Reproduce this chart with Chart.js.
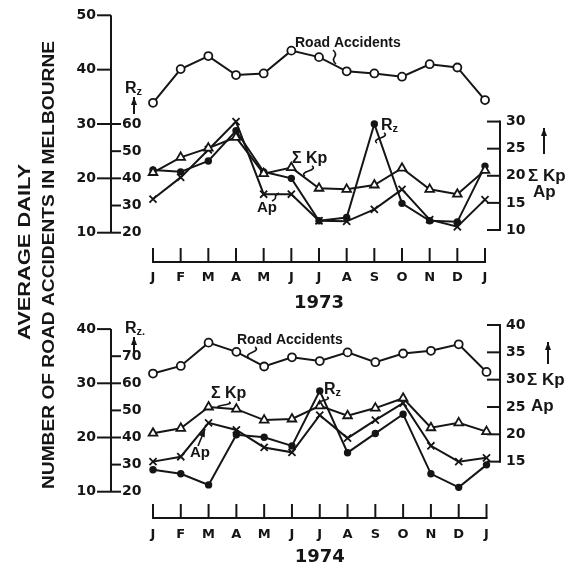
<!DOCTYPE html>
<html>
<head>
<meta charset="utf-8">
<script src="https://cdn.jsdelivr.net/npm/chart.js@4.4.0/dist/chart.umd.min.js"></script>
<style>
  html, body { margin: 0; padding: 0; background: #fff; }
  #wrap { position: relative; width: 571px; height: 564px; }
  #wrap canvas { position: absolute; left: 0; top: 0; }
</style>
</head>
<body>
<div id="wrap">
  <canvas id="c73" width="571" height="564"></canvas>
  <canvas id="c74" width="571" height="564"></canvas>
</div>
<script>
const months = ['J', 'F', 'M', 'A', 'M', 'J', 'J', 'A', 'S', 'O', 'N', 'D', 'J'];

// 1973
const road73 = [33.9, 40.1, 42.5, 39.0, 39.3, 43.5, 42.3, 39.7, 39.3, 38.7, 41.0, 40.4, 34.4];
const kp73   = [20.6, 23.4, 25.1, 27.1, 20.4, 21.5, 17.7, 17.5, 18.3, 21.4, 17.5, 16.6, 21.0];
const ap73   = [15.7, 19.7, 24.8, 30.0, 16.6, 16.6, 11.7, 11.6, 13.8, 17.5, 11.9, 10.6, 15.6];
const rz73   = [43.1, 42.4, 46.4, 57.5, 42.4, 40.0, 24.4, 25.6, 60.0, 30.8, 24.4, 24.0, 44.5];

// 1974
const road74 = [31.8, 33.2, 37.5, 35.8, 33.1, 34.8, 34.1, 35.7, 33.9, 35.5, 36.0, 37.2, 32.1];
const kp74   = [20.2, 21.1, 25.0, 24.6, 22.6, 22.8, 25.2, 23.4, 24.8, 26.6, 21.2, 22.1, 20.5];
const ap74   = [15.0, 15.9, 22.1, 20.8, 17.6, 16.7, 23.5, 19.3, 22.6, 25.7, 17.9, 15.0, 15.7];
const rz74   = [28.1, 26.6, 22.5, 41.0, 40.1, 36.9, 57.2, 34.4, 41.5, 48.6, 26.6, 21.6, 29.9];

// axis tick labels
const leftTicks73 = [10, 20, 30, 40, 50];
const rzTicks73   = [20, 30, 40, 50, 60];
const kTicks73    = [10, 15, 20, 25, 30];
const leftTicks74 = [10, 20, 30, 40];
const rzTicks74   = [20, 30, 40, 50, 60, 70];
const kTicks74    = [15, 20, 25, 30, 35, 40];

const ink = '#151515';
const NUM = 'bold 14px "DejaVu Sans"';
const MON = 'bold 13px "DejaVu Sans"';
const WORD = 'bold 14px "Liberation Sans"';
const BIG = 'bold 17px "Liberation Sans"';

function line(ctx, x1, y1, x2, y2) {
  ctx.beginPath(); ctx.moveTo(x1, y1); ctx.lineTo(x2, y2); ctx.stroke();
}
function txt(ctx, s, x, y, align, font) {
  ctx.font = font; ctx.textAlign = align; ctx.textBaseline = 'middle';
  ctx.fillText(s, x, y);
}
function squiggle(ctx, x1, y1, x2, y2) {
  const mx = (x1 + x2) / 2, my = (y1 + y2) / 2;
  ctx.beginPath();
  ctx.moveTo(x1, y1);
  ctx.quadraticCurveTo(x1 + 4, (y1 + my) / 2, mx, my);
  ctx.quadraticCurveTo(x2 - 4, (my + y2) / 2, x2, y2);
  ctx.stroke();
}
function arrow(ctx, x1, y1, x2, y2) {
  line(ctx, x1, y1, x2, y2);
  const a = Math.atan2(y2 - y1, x2 - x1);
  ctx.beginPath();
  ctx.moveTo(x2, y2);
  ctx.lineTo(x2 - 8 * Math.cos(a) + 3 * Math.sin(a), y2 - 8 * Math.sin(a) - 3 * Math.cos(a));
  ctx.lineTo(x2 - 8 * Math.cos(a) - 3 * Math.sin(a), y2 - 8 * Math.sin(a) + 3 * Math.cos(a));
  ctx.closePath(); ctx.fill();
}
function rz(ctx, x, y, tail) {
  ctx.font = 'bold 16px "Liberation Sans"'; ctx.textAlign = 'left'; ctx.textBaseline = 'alphabetic';
  ctx.fillText('R', x, y);
  const w = ctx.measureText('R').width;
  ctx.font = 'bold 11px "Liberation Sans"';
  ctx.fillText('z' + (tail || ''), x + w, y + 2);
}
function vText(ctx, s, cx, cy, len, font) {
  ctx.save();
  ctx.translate(cx, cy); ctx.rotate(-Math.PI / 2);
  ctx.font = font;
  const w = ctx.measureText(s).width;
  ctx.scale(len / w, 1);
  ctx.textAlign = 'center'; ctx.textBaseline = 'middle';
  ctx.fillText(s, 0, 0);
  ctx.restore();
}

function drawAxes(chart, p) {
  const ctx = chart.ctx, s = chart.scales;
  const xL = 111, xR = 500;
  ctx.save();
  ctx.strokeStyle = ink; ctx.fillStyle = ink; ctx.lineWidth = 2;

  // left: road accidents + Rz
  const lt = p.leftTicks;
  line(ctx, xL, s.y.getPixelForValue(lt[lt.length - 1]), xL, s.y.getPixelForValue(lt[0]));
  lt.forEach(v => {
    const y = s.y.getPixelForValue(v);
    line(ctx, xL - 14, y, xL, y);
    txt(ctx, String(v), xL - 15, y, 'right', NUM);
  });
  p.rzTicks.forEach(v => {
    const y = s.yRz.getPixelForValue(v);
    line(ctx, xL, y, xL + 10, y);
    txt(ctx, String(v), xL + 11, y, 'left', NUM);
  });

  // right: ΣKp / Ap
  const kt = p.kTicks;
  const yk0 = s.yK.getPixelForValue(kt[0]), yk1 = s.yK.getPixelForValue(kt[kt.length - 1]);
  line(ctx, xR, yk1 - 1, xR, yk0 + 1);
  kt.forEach(v => {
    const y = s.yK.getPixelForValue(v);
    line(ctx, xR - 13, y, xR, y);
    txt(ctx, String(v), xR + 6, y, 'left', NUM);
  });

  // months
  const x0 = s.x.getPixelForValue(0), x1 = s.x.getPixelForValue(months.length - 1);
  line(ctx, x0 - 1, p.baseY, x1 + 1, p.baseY);
  months.forEach((m, i) => {
    const x = s.x.getPixelForValue(i);
    line(ctx, x, p.baseY - 14, x, p.baseY);
    txt(ctx, m, x, p.labelY, 'center', MON);
  });
  txt(ctx, p.year, (x0 + x1) / 2, p.yearY, 'center', 'bold 18px "DejaVu Sans"');
  ctx.restore();
}

function drawNotes(chart, p) {
  const ctx = chart.ctx;
  ctx.save();
  ctx.strokeStyle = ink; ctx.fillStyle = ink; ctx.lineWidth = 1.6;
  const n = p.notes;
  txt(ctx, 'Road Accidents', n.road[0], n.road[1], 'left', WORD);
  squiggle(ctx, ...n.roadLead);
  txt(ctx, 'Σ Kp', n.kp[0], n.kp[1], 'left', 'bold 16px "Liberation Sans"');
  squiggle(ctx, ...n.kpLead);
  txt(ctx, 'Ap', n.ap[0], n.ap[1], 'left', 'bold 15px "Liberation Sans"');
  if (n.apArrow) arrow(ctx, ...n.apLead); else squiggle(ctx, ...n.apLead);
  rz(ctx, n.rzPeak[0], n.rzPeak[1]);
  squiggle(ctx, ...n.rzLead);
  // axis titles
  rz(ctx, n.rzAxis[0], n.rzAxis[1], n.rzTail);
  ctx.lineWidth = 2;
  arrow(ctx, n.rzArrow[0], n.rzArrow[1], n.rzArrow[0], n.rzArrow[2]);
  arrow(ctx, n.kArrow[0], n.kArrow[1], n.kArrow[0], n.kArrow[2]);
  txt(ctx, 'Σ Kp', n.kTitle[0], n.kTitle[1], 'left', BIG);
  txt(ctx, 'Ap', n.apTitle[0], n.apTitle[1], 'left', BIG);
  if (p.title) {
    vText(ctx, 'AVERAGE DAILY', 26, 252, 176, 'bold 16px "Liberation Sans"');
    vText(ctx, 'NUMBER OF ROAD ACCIDENTS IN MELBOURNE', 50, 265, 448, 'bold 16px "Liberation Sans"');
  }
  ctx.restore();
}

function panelPlugin(p) {
  return {
    id: 'panel' + p.year,
    beforeDatasetsDraw(chart) { drawAxes(chart, p); },
    afterDatasetsDraw(chart) { drawNotes(chart, p); }
  };
}

function ds(label, data, axis, style, fill, r) {
  return {
    label, data, yAxisID: axis,
    borderColor: ink, borderWidth: 2, tension: 0, clip: false,
    pointStyle: style, pointRadius: r, pointBorderWidth: 1.8,
    pointBackgroundColor: fill, pointBorderColor: ink
  };
}

function makeChart(id, p, sets, padding, yMin, yMax, rzMax, kMin, kMax) {
  return new Chart(document.getElementById(id), {
    type: 'line',
    data: { labels: months, datasets: sets },
    options: {
      responsive: false, animation: false, devicePixelRatio: 1, events: [],
      layout: { padding },
      plugins: { legend: { display: false }, tooltip: { enabled: false } },
      scales: {
        x: { display: false, offset: false },
        y: { display: false, min: yMin, max: yMax },
        yRz: { display: false, min: 20, max: rzMax },
        yK: { display: false, position: 'right', min: kMin, max: kMax }
      }
    },
    plugins: [panelPlugin(p)]
  });
}

const p73 = {
  year: '1973', leftTicks: leftTicks73, rzTicks: rzTicks73, kTicks: kTicks73,
  baseY: 262, labelY: 278, yearY: 303, title: true,
  notes: {
    road: [295, 43], roadLead: [333, 50, 336, 64],
    kp: [292, 159], kpLead: [312, 166, 305, 176],
    ap: [257, 208], apLead: [272, 201, 279, 193], apArrow: false,
    rzPeak: [381, 130], rzLead: [384, 133, 377, 143],
    rzAxis: [125, 93], rzArrow: [134, 114, 97],
    kArrow: [544, 154, 128], kTitle: [528, 176], apTitle: [533, 192]
  }
};
const p74 = {
  year: '1974', leftTicks: leftTicks74, rzTicks: rzTicks74, kTicks: kTicks74,
  baseY: 518, labelY: 535, yearY: 557, title: false,
  notes: {
    road: [237, 340], roadLead: [255, 347, 249, 358],
    kp: [211, 394], kpLead: [229, 402, 219, 408],
    ap: [190, 453], apLead: [198, 446, 205, 429], apArrow: true,
    rzPeak: [324, 394], rzLead: [327, 397, 320, 404],
    rzAxis: [125, 333], rzTail: '.', rzArrow: [134, 352, 337],
    kArrow: [548, 364, 342], kTitle: [527, 380], apTitle: [531, 406]
  }
};

makeChart('c73', p73, [
  ds('Road Accidents', road73, 'y', 'circle', '#fff', 4),
  ds('ΣKp', kp73, 'yK', 'triangle', '#fff', 5),
  ds('Ap', ap73, 'yK', 'crossRot', ink, 5),
  ds('Rz', rz73, 'yRz', 'circle', ink, 2.8)
], { left: 153, right: 86, top: 15.3, bottom: 331.3 }, 10, 50, 100, 9.5, 49.6);

makeChart('c74', p74, [
  ds('Road Accidents', road74, 'y', 'circle', '#fff', 4),
  ds('ΣKp', kp74, 'yK', 'triangle', '#fff', 5),
  ds('Ap', ap74, 'yK', 'crossRot', ink, 5),
  ds('Rz', rz74, 'yRz', 'circle', ink, 2.8)
], { left: 153, right: 84.5, top: 329.1, bottom: 72.3 }, 10, 40, 80, 9.5, 39.25);
</script>
</body>
</html>
